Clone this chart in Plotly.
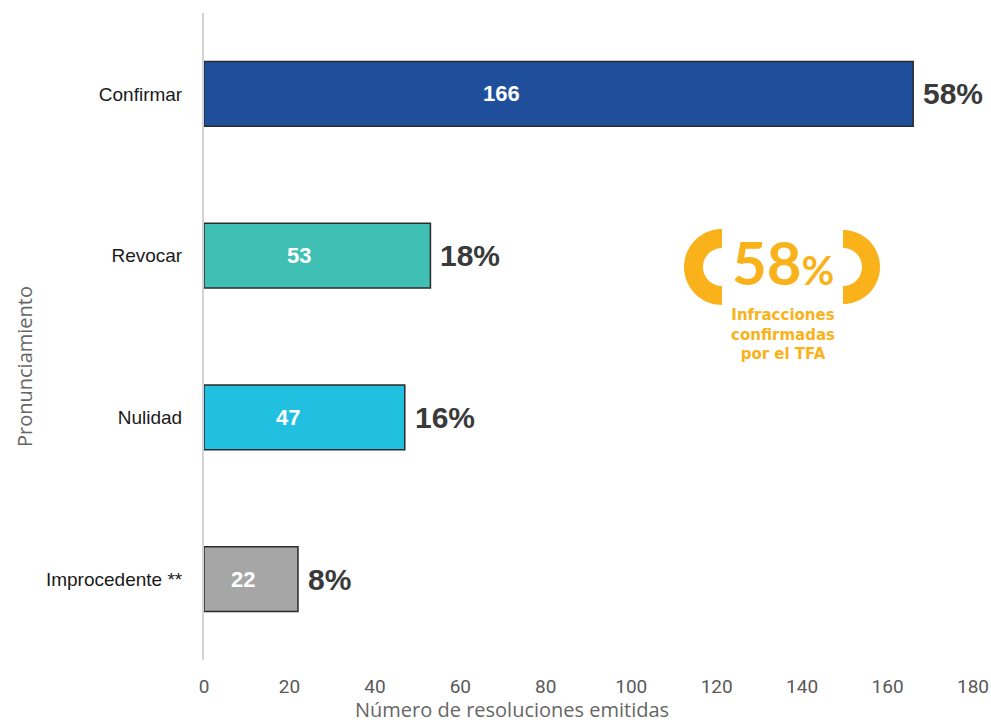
import plotly.graph_objects as go
import numpy as np

categories = ["Confirmar", "Revocar", "Nulidad", "Improcedente **"]
values = [166, 53, 47, 22]
pct_labels = ["58%", "18%", "16%", "8%"]
colors = ["#1F4E9B", "#40BFB5", "#21BFE0", "#A6A6A6"]
x_ticks = [0, 20, 40, 60, 80, 100, 120, 140, 160, 180]
callout_value = "58"
callout_lines = ["Infracciones", "confirmadas", "por el TFA"]

W, H = 991, 723
# plot area in page pixels: x 204..973, y 13..660
L, R, T, B = 204, W - 973, 13, H - 660

ORANGE = "#F9B21A"

fig = go.Figure()
fig.add_trace(go.Bar(
    y=categories, x=values, orientation="h",
    marker=dict(color=colors, line=dict(color="#2b2b2b", width=1.5)),
    width=0.4, hoverinfo="skip", showlegend=False,
))

ann = []
for c, v, p in zip(categories, values, pct_labels):
    ann.append(dict(x=v * 0.42, y=c, xref="x", yref="y", text=f"<b>{v}</b>",
                    showarrow=False, xanchor="center", yanchor="middle",
                    font=dict(family="Liberation Sans, Arial", size=22, color="white")))
    ann.append(dict(x=v, y=c, xref="x", yref="y", text=f"<b>{p}</b>",
                    showarrow=False, xanchor="left", yanchor="middle", xshift=8,
                    font=dict(family="Liberation Sans, Arial", size=30, color="#3a3a3a")))

pw, ph = 973 - 204, 660 - 13
def px2paper(x, y):
    return (x - 204) / pw, (660 - y) / ph

# big callout
cx = 783
ann.append(dict(x=px2paper(cx, 0)[0], y=px2paper(0, 262)[1], xref="paper", yref="paper",
                text=f"<b>{callout_value}</b><span style='font-size:40px'><b>%</b></span>",
                showarrow=False, xanchor="center", yanchor="middle",
                font=dict(family="Lato, Noto Sans", size=60, color=ORANGE)))
ann.append(dict(x=px2paper(cx, 0)[0], y=px2paper(0, 334)[1], xref="paper", yref="paper",
                text="<br>".join(f"<b>{s}</b>" for s in callout_lines), showarrow=False,
                xanchor="center", yanchor="middle", align="center",
                font=dict(family="DejaVu Sans", size=15, color=ORANGE)))

# axis titles
ann.append(dict(x=px2paper(512, 0)[0], y=px2paper(0, 709)[1], xref="paper", yref="paper",
                text="Número de resoluciones emitidas", showarrow=False,
                xanchor="center", yanchor="middle", borderpad=0,
                font=dict(family="Open Sans, Noto Sans", size=20, color="#666666")))
ann.append(dict(x=px2paper(25, 0)[0], y=px2paper(0, 367)[1], xref="paper", yref="paper",
                text="Pronunciamiento", showarrow=False, textangle=-90,
                xanchor="center", yanchor="middle",
                font=dict(family="Open Sans, Noto Sans", size=20, color="#666666")))

# bracket half-annuli
def bracket(xc, yc, r_out, r_in, side):
    s = -1 if side == "left" else 1
    t = np.linspace(-np.pi / 2, np.pi / 2, 40)
    outer = [(xc + s * r_out * np.cos(a), yc + r_out * np.sin(a)) for a in t]
    inner = [(xc + s * r_in * np.cos(a), yc + r_in * np.sin(a)) for a in t[::-1]]
    pts = [px2paper(x, y) for x, y in outer + inner]
    return "M " + " L ".join(f"{x:.5f},{y:.5f}" for x, y in pts) + " Z"

shapes = [
    dict(type="path", xref="paper", yref="paper", path=bracket(722, 267, 38, 19, "left"),
         fillcolor=ORANGE, line=dict(width=0)),
    dict(type="path", xref="paper", yref="paper", path=bracket(843, 267, 37, 19, "right"),
         fillcolor=ORANGE, line=dict(width=0)),
]

fig.update_layout(
    width=W, height=H, margin=dict(l=L, r=R, t=T, b=B, autoexpand=False),
    plot_bgcolor="white", paper_bgcolor="white",
    annotations=ann, shapes=shapes,
    xaxis=dict(range=[0, 180], tickvals=x_ticks, showgrid=False, zeroline=False,
               showline=False, ticks="", ticklabelstandoff=13, automargin=False,
               tickfont=dict(family="Liberation Sans Narrow, Roboto", size=19, color="#595959")),
    yaxis=dict(autorange="reversed", showgrid=False, zeroline=False, showline=True,
               linecolor="#d4d4d4", linewidth=2, ticks="", ticklabelstandoff=16,
               automargin=False,
               tickfont=dict(family="Liberation Sans, Arial", size=19, color="#1a1a1a")),
)

fig.write_html("out.html", config={"displayModeBar": False},
               post_script="document.body.style.margin='0';document.body.style.overflow='hidden';")
